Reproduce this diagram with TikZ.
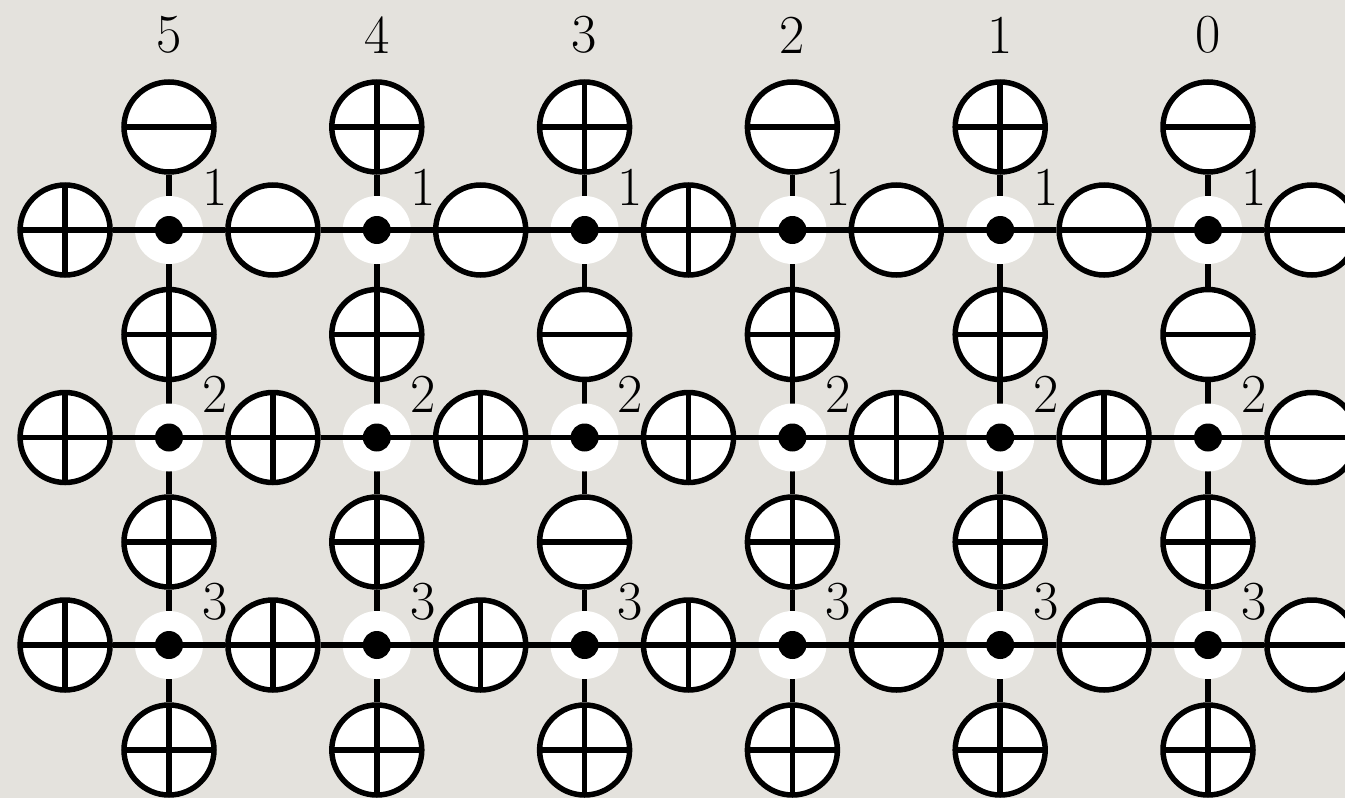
\documentclass[tikz,border=0pt]{standalone}
\definecolor{bgc}{RGB}{228,226,221}
\pgfdeclarelayer{bglayer}
\pgfdeclarelayer{vedge}
\pgfdeclarelayer{halolayer}
\pgfdeclarelayer{hedge}
\pgfsetlayers{bglayer,vedge,halolayer,hedge,main}
\begin{document}
\begin{tikzpicture}[x=1pt,y=-1pt,
  lw/.style={line width=5.5pt},
  edge/.style={lw,draw=black},
  sym/.style={lw,circle,draw=black,fill=white,minimum size=90pt,inner sep=0pt},
  symh/.style={sym,path picture={\draw[lw] (path picture bounding box.west) -- (path picture bounding box.east);}},
  symp/.style={sym,path picture={\draw[lw] (path picture bounding box.west) -- (path picture bounding box.east);
     \draw[lw] (path picture bounding box.north) -- (path picture bounding box.south);}},
  halo/.style={circle,fill=white,minimum size=68pt,inner sep=0pt},
  vdot/.style={circle,fill=black,minimum size=28pt,inner sep=0pt},
  lab/.style={font=\fontsize{55}{60}\selectfont,inner sep=0pt}
]
\begin{pgfonlayer}{bglayer}
\fill[bgc] (0,0) rectangle (1345,798);
\end{pgfonlayer}
\useasboundingbox (0,0) rectangle (1345,798);
\clip (0,0) rectangle (1345,798);
% column labels
\foreach \i in {0,...,5}{
  \pgfmathtruncatemacro\n{5-\i}
  \node[lab] (col-\i) at ({169+207.8*\i},35) {\n};
}
% vertical circles
\foreach \s [count=\i from 0] in {symh,symp,symp,symh,symp,symh}
  \node[\s] (vc-0-\i) at ({169+207.8*\i},127) {};
\foreach \s [count=\i from 0] in {symp,symp,symh,symp,symp,symh}
  \node[\s] (vc-1-\i) at ({169+207.8*\i},334.5) {};
\foreach \s [count=\i from 0] in {symp,symp,symh,symp,symp,symp}
  \node[\s] (vc-2-\i) at ({169+207.8*\i},542) {};
\foreach \s [count=\i from 0] in {symp,symp,symp,symp,symp,symp}
  \node[\s] (vc-3-\i) at ({169+207.8*\i},750) {};
% horizontal circles
\foreach \s [count=\j from 0] in {symp,symh,symh,symp,symh,symh,symh}
  \node[\s] (hc-1-\j) at ({65.1+207.8*\j},230) {};
\foreach \s [count=\j from 0] in {symp,symp,symp,symp,symp,symp,symh}
  \node[\s] (hc-2-\j) at ({65.1+207.8*\j},437.5) {};
\foreach \s [count=\j from 0] in {symp,symp,symp,symp,symh,symh,symh}
  \node[\s] (hc-3-\j) at ({65.1+207.8*\j},645) {};
% vertices
\foreach \r/\y in {1/230,2/437.5,3/645}{
  \foreach \i in {0,...,5}{
    \begin{pgfonlayer}{halolayer}
      \node[halo] (h-\r-\i) at ({169+207.8*\i},\y) {};
    \end{pgfonlayer}
    \node[vdot] (d-\r-\i) at ({169+207.8*\i},\y) {};
    \node[lab] (rl-\r-\i) at ({169+207.8*\i+46},{\y-43}) {\r};
  }
}
% vertical edges
\begin{pgfonlayer}{vedge}
\foreach \i in {0,...,5}
  \draw[edge] (vc-0-\i) -- (vc-1-\i) -- (vc-2-\i) -- (vc-3-\i);
\end{pgfonlayer}
% horizontal edges
\begin{pgfonlayer}{hedge}
\foreach \r in {1,2,3}
  \draw[edge] (hc-\r-0) -- (hc-\r-1) -- (hc-\r-2) -- (hc-\r-3) -- (hc-\r-4) -- (hc-\r-5) -- (hc-\r-6);
\end{pgfonlayer}
\end{tikzpicture}
\end{document}
